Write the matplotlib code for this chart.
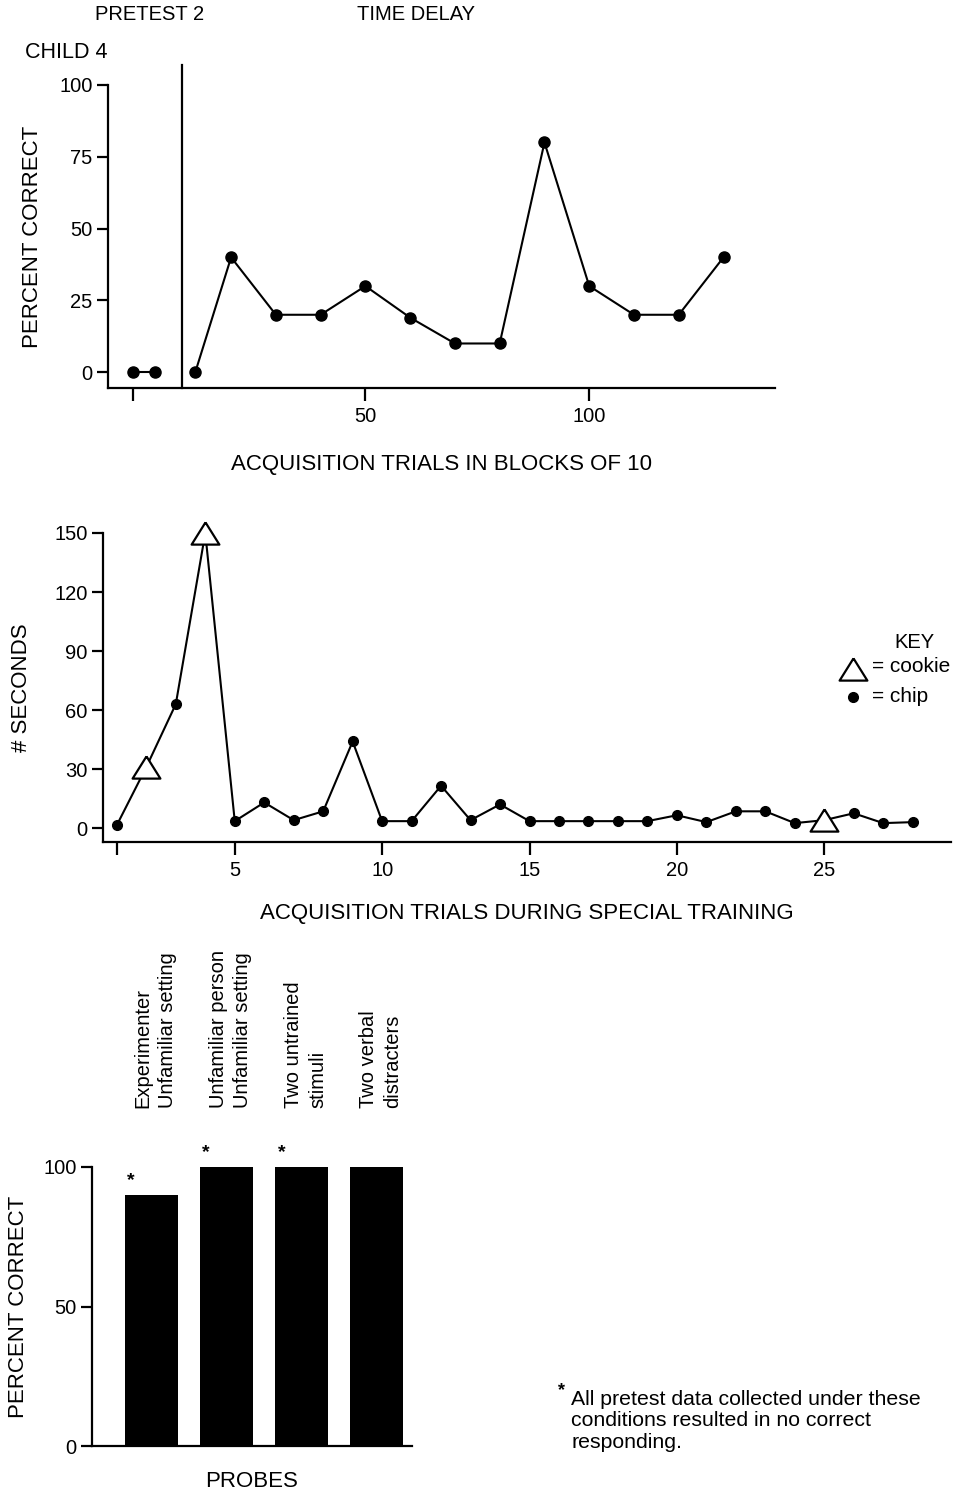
import matplotlib
matplotlib.use("Agg")
import matplotlib.pyplot as plt

plt.rcParams['font.family'] = ['Liberation Sans', 'DejaVu Sans']

# ---------------- data ----------------
pretest_x = [-2, 3]
pretest_y = [0, 0]
delay_x = [12, 20, 30, 40, 50, 60, 70, 80, 90, 100, 110, 120, 130]
delay_y = [0, 40, 20, 20, 30, 19, 10, 10, 80, 30, 20, 20, 40]

trials = list(range(1, 29))
seconds = [1.5, 31, 63, 150, 3.5, 13, 4, 8.5, 44, 3.5, 3.5, 21.5, 4, 12,
           3.5, 3.5, 3.5, 3.5, 3.5, 6.5, 3, 8.5, 8.5, 2.5, 4, 7.5, 2.5, 3]
reinforcer = ['chip', 'cookie', 'chip', 'cookie', 'chip', 'chip', 'chip', 'chip',
              'chip', 'chip', 'chip', 'chip', 'chip', 'chip', 'chip', 'chip',
              'chip', 'chip', 'chip', 'chip', 'chip', 'chip', 'chip', 'chip',
              'cookie', 'chip', 'chip', 'chip']

probe_labels = ["Experimenter\nUnfamiliar setting",
                "Unfamiliar person\nUnfamiliar setting",
                "Two untrained\nstimuli",
                "Two verbal\ndistracters"]
probe_values = [90, 100, 100, 100]
probe_star = [True, True, True, False]

W, H = 972, 1495
fig = plt.figure(figsize=(W / 100, H / 100), dpi=100)

TRI = [(0, 0.8), (-1, -0.8), (1, -0.8), (0, 0.8)]


def ax_px(left, right, top, bottom):
    return fig.add_axes([left / W, 1 - bottom / H, (right - left) / W, (bottom - top) / H])


def style(ax):
    for s in ['top', 'right']:
        ax.spines[s].set_visible(False)
    for s in ['left', 'bottom']:
        ax.spines[s].set_linewidth(1.6)
    ax.tick_params(direction='out', length=8, width=1.6, labelsize=14.5, pad=3)


TICK = 14.5
LAB = 16
lw = 1.5

# ---------------- top panel ----------------
ax1 = ax_px(108, 775, 85, 388)
style(ax1)
ax1.set_xlim(-7.5, 141.5)
ax1.set_ylim(-5.5, 100)
ax1.plot(pretest_x, pretest_y, '-o', color='black', lw=lw, ms=8, clip_on=False)
ax1.plot(delay_x, delay_y, '-o', color='black', lw=lw, ms=8, clip_on=False)
ax1.plot([9, 9], [-5.5, 107], color='black', lw=1.6, clip_on=False)
ax1.set_yticks([0, 25, 50, 75, 100])
ax1.set_xticks([-2, 50, 100])
ax1.set_xticklabels(['', '50', '100'])
ax1.tick_params(axis='x', length=9, pad=5)
ax1.set_ylabel('PERCENT CORRECT', fontsize=LAB, labelpad=12)
ax1.set_xlabel('ACQUISITION TRIALS IN BLOCKS OF 10', fontsize=LAB, labelpad=20)
fig.text(150 / W, 1 - 15 / H, 'PRETEST 2', fontsize=TICK, ha='center', va='center')
fig.text(416 / W, 1 - 15 / H, 'TIME DELAY', fontsize=TICK, ha='center', va='center')
fig.text(66 / W, 1 - 53 / H, 'CHILD 4', fontsize=15.5, ha='center', va='center')

# ---------------- middle panel ----------------
ax2 = ax_px(103, 951, 533, 842)
style(ax2)
ax2.set_xlim(0.53, 29.3)
ax2.set_ylim(-7.1, 150)
ax2.plot(trials, seconds, '-', color='black', lw=lw, clip_on=False, zorder=2)
for t, s, r in zip(trials, seconds, reinforcer):
    if r == 'cookie':
        ax2.plot(t, s, marker=TRI, ms=20, mfc='white', mec='black', mew=1.6,
                 clip_on=False, zorder=3)
    else:
        ax2.plot(t, s, marker='o', ms=7, color='black', clip_on=False, zorder=3)
ax2.set_yticks([0, 30, 60, 90, 120, 150])
ax2.set_xticks([1, 5, 10, 15, 20, 25])
ax2.set_xticklabels(['', '5', '10', '15', '20', '25'])
ax2.tick_params(axis='x', length=9, pad=5)
ax2.set_ylabel('# SECONDS', fontsize=LAB, labelpad=16)
ax2.set_xlabel('ACQUISITION TRIALS DURING SPECIAL TRAINING', fontsize=LAB, labelpad=16)

# key
fig.text(914 / W, 1 - 643 / H, 'KEY', fontsize=TICK, ha='center', va='center')
fig.lines.append(plt.Line2D([853 / W], [1 - 669 / H], marker=TRI, ms=20, mfc='white',
                            mec='black', mew=1.6, transform=fig.transFigure))
fig.text(872 / W, 1 - 666 / H, '= cookie', fontsize=15, ha='left', va='center')
fig.lines.append(plt.Line2D([853 / W], [1 - 697 / H], marker='o', ms=7, color='black',
                            transform=fig.transFigure))
fig.text(872 / W, 1 - 697 / H, '= chip', fontsize=15, ha='left', va='center')

# ---------------- bottom panel ----------------
ax3 = ax_px(92, 412, 1167, 1446)
style(ax3)
xs = list(range(len(probe_values)))
ax3.bar(xs, probe_values, width=0.7, color='black')
ax3.set_xlim(-0.79, 3.47)
ax3.set_ylim(0, 100)
ax3.set_yticks([0, 50, 100])
ax3.set_xticks([])
ax3.set_ylabel('PERCENT CORRECT', fontsize=LAB, labelpad=10)
ax3.set_xlabel('PROBES', fontsize=LAB, labelpad=18)
for x, v, st, lab in zip(xs, probe_values, probe_star, probe_labels):
    if st:
        ax3.text(x - 0.27, v + 2, '*', fontsize=14, fontweight='bold',
                 ha='center', va='bottom')
    ax3.text(x + 0.05, 121, lab, rotation=90,
             fontsize=TICK, ha='center', va='bottom', multialignment='left',
             linespacing=1.35)

fig.text(558 / W, 1 - 1391 / H, '*', fontsize=13, fontweight='bold', ha='left', va='center')
fig.text(571 / W, 1 - 1421 / H,
         'All pretest data collected under these\nconditions resulted in no correct\nresponding.',
         fontsize=15.3, ha='left', va='center', linespacing=1.15)

fig.savefig('out.png', dpi=100)
